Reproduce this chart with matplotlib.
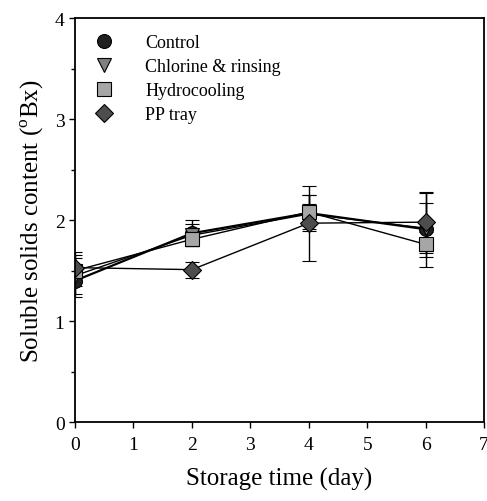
import matplotlib
matplotlib.use("Agg")
import matplotlib.pyplot as plt
from matplotlib.lines import Line2D
from matplotlib.ticker import MultipleLocator

plt.rcParams["font.family"] = ["Liberation Serif", "DejaVu Serif"]
plt.rcParams["mathtext.fontset"] = "custom"
plt.rcParams["mathtext.rm"] = "Liberation Serif"

days = [0, 2, 4, 6]

control = [1.40, 1.87, 2.07, 1.91]
control_sd = [0.16, 0.13, 0.18, 0.37]
chlorine = [1.45, 1.85, 2.06, 1.92]
chlorine_sd = [0.18, 0.11, 0.10, 0.25]
hydro = [1.50, 1.81, 2.08, 1.76]
hydro_sd = [0.15, 0.07, 0.17, 0.12]
pptray = [1.53, 1.51, 1.97, 1.98]
pptray_sd = [0.15, 0.08, 0.37, 0.29]

series = [
    ("Control", control, control_sd, "o", "#202020", 1.6),
    ("Chlorine & rinsing", chlorine, chlorine_sd, "v", "#808080", 1.0),
    ("Hydrocooling", hydro, hydro_sd, "s", "#a6a6a6", 1.0),
    ("PP tray", pptray, pptray_sd, "D", "#4d4d4d", 1.0),
]

fig = plt.figure(figsize=(4.87, 5.02), dpi=100)
ax = fig.add_axes([0.154, 0.157, 0.84, 0.805])

handles = []
for name, vals, sd, mk, col, lw in series:
    ms = 10 if mk != "D" else 9
    ax.errorbar(days, vals, yerr=sd, color="black", lw=lw, elinewidth=1,
                capsize=5, capthick=1, marker=mk, markersize=ms,
                markerfacecolor=col, markeredgecolor="black", markeredgewidth=0.8)
    handles.append(Line2D([], [], ls="none", marker=mk, markersize=ms,
                          markerfacecolor=col, markeredgecolor="black",
                          markeredgewidth=0.8, label=name))

ax.set_xlim(0, 7)
ax.set_ylim(0, 4)
ax.xaxis.set_major_locator(MultipleLocator(1))
ax.yaxis.set_major_locator(MultipleLocator(1))
ax.yaxis.set_minor_locator(MultipleLocator(0.5))
ax.tick_params(which="major", direction="out", length=4, width=1, labelsize=14)
ax.tick_params(which="minor", direction="out", length=3, width=1)
ax.tick_params(axis="x", pad=6)
for s in ax.spines.values():
    s.set_linewidth(1.3)

ax.set_xlabel("Storage time (day)", fontsize=18, labelpad=10)
ax.set_ylabel(r"Soluble solids content ($^{\mathrm{o}}$Bx)", fontsize=18, labelpad=6)

ax.legend(handles=handles, loc="upper left", frameon=False, fontsize=13,
          handletextpad=1.6, labelspacing=0.38, borderaxespad=0.5,
          handlelength=1.4)

fig.savefig("out.png", dpi=100)
